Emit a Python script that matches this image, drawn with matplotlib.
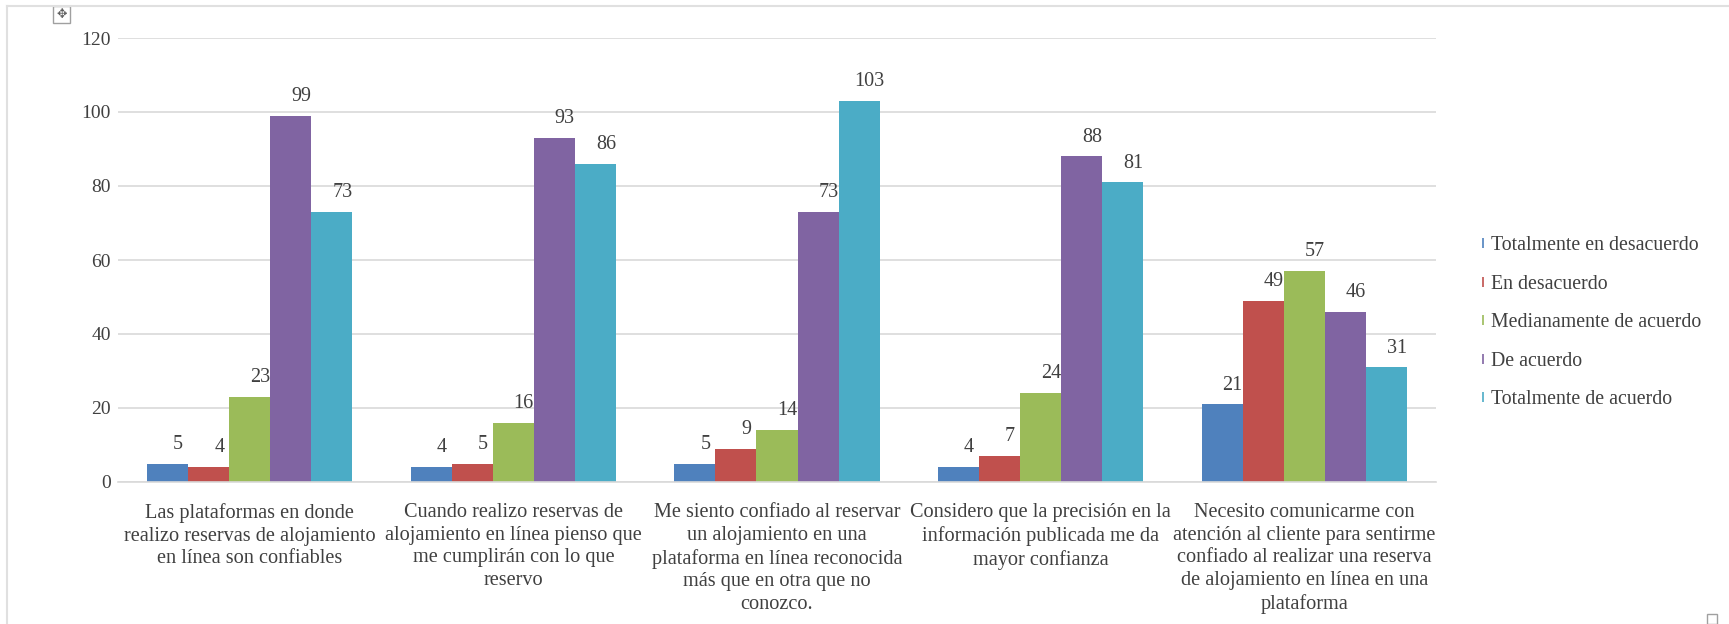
import matplotlib
matplotlib.use("Agg")
from matplotlib import pyplot as plt
from matplotlib.lines import Line2D
from matplotlib.patches import Rectangle
import numpy as np

plt.rcParams['font.family'] = ['Liberation Serif', 'DejaVu Serif']

categories = [
    "Las plataformas en donde\nrealizo reservas de alojamiento\nen línea son confiables",
    "Cuando realizo reservas de\nalojamiento en línea pienso que\nme cumplirán con lo que\nreservo",
    "Me siento confiado al reservar\nun alojamiento en una\nplataforma en línea reconocida\nmás que en otra que no\nconozco.",
    "Considero que la precisión en la\ninformación publicada me da\nmayor confianza",
    "Necesito comunicarme con\natención al cliente para sentirme\nconfiado al realizar una reserva\nde alojamiento en línea en una\nplataforma",
]
series_names = ["Totalmente en desacuerdo", "En desacuerdo", "Medianamente de acuerdo",
                "De acuerdo", "Totalmente de acuerdo"]
tot_desacuerdo = [5, 4, 5, 4, 21]
desacuerdo = [4, 5, 9, 7, 49]
medianamente = [23, 16, 14, 24, 57]
de_acuerdo = [99, 93, 73, 88, 46]
tot_acuerdo = [73, 86, 103, 81, 31]
colors = ["#4F81BD", "#C0504D", "#9BBB59", "#8064A2", "#4BACC6"]

fig = plt.figure(figsize=(17.29, 6.24), dpi=100)
ax = fig.add_axes([118 / 1729, 1 - 482 / 624, (1436 - 118) / 1729, 444 / 624])

x = np.arange(len(categories))
w = 0.1556
all_series = [tot_desacuerdo, desacuerdo, medianamente, de_acuerdo, tot_acuerdo]
for i, (vals, c) in enumerate(zip(all_series, colors)):
    pos = x + (i - 2) * w
    bars = ax.bar(pos, vals, w, color=c, zorder=2)
    for b, v in zip(bars, vals):
        ax.annotate(str(v), (b.get_x() + b.get_width() / 2, v), xytext=(7.5, 7),
                    textcoords='offset points', ha='center', va='bottom',
                    fontsize=14.5, color='#404040')

ax.set_xlim(-0.5, 4.5)
ax.set_ylim(0, 120)
ax.set_yticks(range(0, 121, 20))
ax.yaxis.grid(True, color='#D9D9D9', linewidth=1.2, zorder=0)
ax.set_axisbelow(True)
for s in ['top', 'right', 'left']:
    ax.spines[s].set_visible(False)
ax.spines['bottom'].set_color('#D9D9D9')
ax.spines['bottom'].set_linewidth(1.2)
ax.tick_params(axis='both', length=0, labelsize=14, labelcolor='#404040')
ax.tick_params(axis='y', pad=5)
ax.tick_params(axis='x', pad=15, labelsize=14.6)
ax.set_xticks(x)
ax.set_xticklabels(categories, linespacing=1.27, ha='center')

handles = [Line2D([], [], color=c, marker='|', linestyle='None', markersize=7,
                  markeredgewidth=1.2) for c in colors]
fig.legend(handles, series_names, loc='center left', bbox_to_anchor=(0.845, 0.483),
           frameon=False, fontsize=14.3, labelspacing=0.98, handlelength=0.4,
           handletextpad=0.2, labelcolor='#404040')

# chart frame and word-style widgets
fig.add_artist(Line2D([7 / 1729, 1], [1 - 6 / 624, 1 - 6 / 624], color='#E0E0E0', lw=1.5))
fig.add_artist(Line2D([7 / 1729, 7 / 1729], [0, 1 - 6 / 624], color='#E0E0E0', lw=1.5))
fig.add_artist(Rectangle((53 / 1729, 1 - 23 / 624), 17 / 1729, 17 / 624, fill=False,
                         edgecolor='#A0A0A0', lw=1))
fig.text(61.5 / 1729, 1 - 14.5 / 624, '✥', ha='center', va='center', fontsize=9,
         color='#606060', family=['DejaVu Sans'])
fig.add_artist(Rectangle((1707 / 1729, 0), 10 / 1729, 10 / 624, fill=False,
                         edgecolor='#A0A0A0', lw=1))

fig.savefig('out.png', dpi=100)
